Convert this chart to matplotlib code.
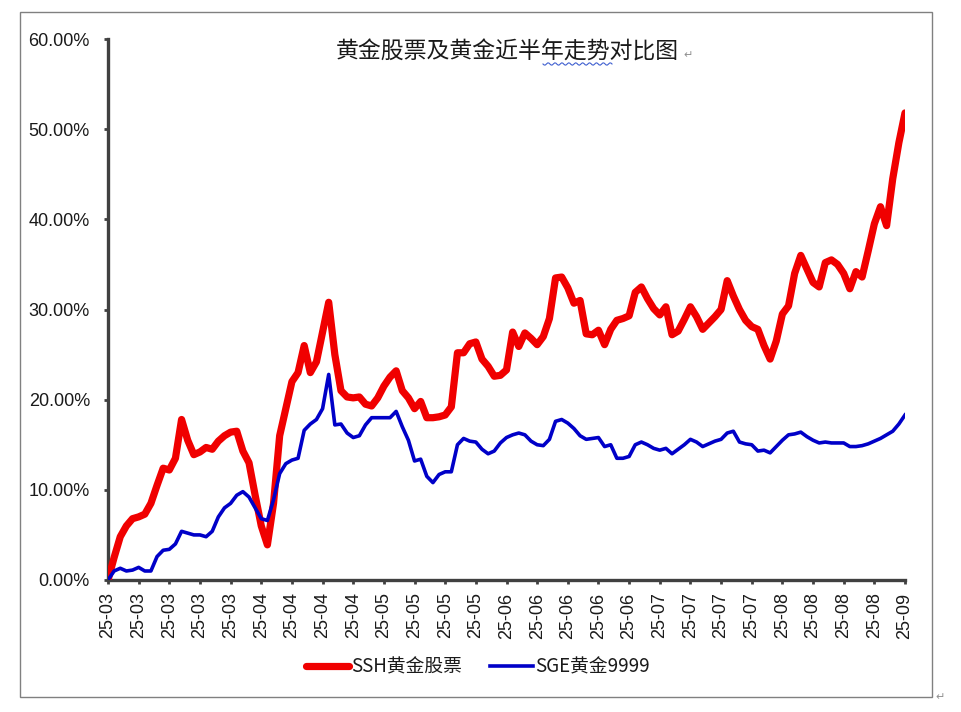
#!/usr/bin/env python3
"""
黄金股票及黄金近半年走势对比图
"""

import matplotlib
matplotlib.use('Agg')
import matplotlib.pyplot as plt
from matplotlib.patches import Rectangle
import numpy as np


# 横轴刻度标签（每 5 个交易日一个）
tick_labels = (['25-03'] * 5 + ['25-04'] * 4 + ['25-05'] * 4 + ['25-06'] * 5
               + ['25-07'] * 4 + ['25-08'] * 4 + ['25-09'])
tick_step = 5

# SSH黄金股票 累计涨幅（%）
ssh_gold_stock = [
  0.0, 2.5, 4.8, 6.0, 6.8, 7.0, 7.3, 8.5, 10.5, 12.4,
  12.2, 13.5, 17.8, 15.5, 13.9, 14.2, 14.7, 14.5, 15.4, 16.0,
  16.4, 16.5, 14.3, 13.0, 9.4, 6.0, 3.9, 8.5, 16.0, 19.0,
  22.0, 23.0, 26.0, 23.0, 24.2, 27.5, 30.8, 25.0, 21.0, 20.3,
  20.2, 20.3, 19.5, 19.3, 20.2, 21.5, 22.5, 23.2, 21.0, 20.2,
  19.0, 19.8, 18.0, 18.0, 18.1, 18.3, 19.2, 25.2, 25.2, 26.2,
  26.4, 24.5, 23.7, 22.6, 22.7, 23.3, 27.5, 25.9, 27.4, 26.8,
  26.1, 27.0, 29.0, 33.5, 33.6, 32.4, 30.7, 31.0, 27.3, 27.2,
  27.7, 26.1, 27.8, 28.8, 29.0, 29.3, 31.9, 32.5, 31.2, 30.1,
  29.4, 30.3, 27.2, 27.6, 28.9, 30.3, 29.2, 27.8, 28.5, 29.2,
  30.0, 33.2, 31.5, 30.0, 28.8, 28.1, 27.8, 26.0, 24.5, 26.5,
  29.5, 30.4, 34.0, 36.0, 34.5, 33.0, 32.5, 35.2, 35.5, 35.0,
  34.0, 32.3, 34.2, 33.6, 36.5, 39.5, 41.4, 39.3, 44.5, 48.5,
  51.8,
]

# SGE黄金9999 累计涨幅（%）
sge_gold_9999 = [
  0.0, 1.0, 1.3, 1.0, 1.1, 1.4, 1.0, 1.0, 2.6, 3.3,
  3.4, 4.0, 5.4, 5.2, 5.0, 5.0, 4.8, 5.4, 7.0, 8.0,
  8.5, 9.4, 9.8, 9.2, 8.0, 6.8, 6.6, 8.9, 11.8, 12.9,
  13.3, 13.5, 16.6, 17.3, 17.8, 19.0, 22.8, 17.2, 17.3, 16.3,
  15.8, 16.0, 17.2, 18.0, 18.0, 18.0, 18.0, 18.7, 17.0, 15.5,
  13.2, 13.4, 11.5, 10.8, 11.7, 12.0, 12.0, 15.0, 15.7, 15.4,
  15.3, 14.5, 14.0, 14.3, 15.2, 15.8, 16.1, 16.3, 16.1, 15.4,
  15.0, 14.9, 15.6, 17.6, 17.8, 17.4, 16.8, 16.0, 15.6, 15.7,
  15.8, 14.8, 15.0, 13.5, 13.5, 13.7, 15.0, 15.3, 15.0, 14.6,
  14.4, 14.6, 14.0, 14.5, 15.0, 15.6, 15.3, 14.8, 15.1, 15.4,
  15.6, 16.3, 16.5, 15.3, 15.1, 15.0, 14.3, 14.4, 14.1, 14.8,
  15.5, 16.1, 16.2, 16.4, 15.9, 15.5, 15.2, 15.3, 15.2, 15.2,
  15.2, 14.8, 14.8, 14.9, 15.1, 15.4, 15.7, 16.1, 16.5, 17.3,
  18.3,
]

y_ticks = [0, 10, 20, 30, 40, 50, 60]


def main():
  plt.rcParams['font.family'] = ['Liberation Sans', 'Noto Sans CJK SC', 'DejaVu Sans']
  W, H = 961, 712
  fig = plt.figure(figsize=(W / 100, H / 100), dpi=100)
  ax = fig.add_axes([108 / W, 1 - 580 / H, 797 / W, 541 / H])

  x = np.arange(len(ssh_gold_stock))
  ax.plot(x, ssh_gold_stock, color='#F00000', linewidth=5.2,
          solid_joinstyle='round', solid_capstyle='round', label='SSH黄金股票', zorder=3)
  ax.plot(x, sge_gold_9999, color='#0000C8', linewidth=2.6,
          solid_joinstyle='round', label='SGE黄金9999', zorder=4)

  ax.set_xlim(0, len(x) - 1)
  ax.set_ylim(0, 60)

  # 坐标轴样式
  for side in ['top', 'right']:
    ax.spines[side].set_visible(False)
  for side in ['left', 'bottom']:
    ax.spines[side].set_color('#404040')
    ax.spines[side].set_linewidth(2.4)
  ax.tick_params(axis='both', colors='#404040', width=2, length=3, direction='out',
                 labelcolor='#1a1a1a', labelsize=13)
  ax.tick_params(axis='y', pad=10)
  ax.tick_params(axis='x', pad=6)

  ax.set_yticks(y_ticks)
  ax.set_yticklabels([f'{v:.2f}%' for v in y_ticks])
  tick_pos = np.arange(0, len(x), tick_step)
  ax.set_xticks(tick_pos)
  ax.set_xticklabels(tick_labels, rotation=90)

  # 标题（位于绘图区内）
  fig.text(507 / W, 1 - 52 / H, '黄金股票及黄金近半年走势对比图', ha='center', va='center',
           fontsize=16.5, family=['Noto Sans CJK SC'], color='#1a1a1a')
  fig.text(688 / W, 1 - 55 / H, '↵', ha='center', va='center', fontsize=8,
           family=['DejaVu Sans'], color='#909090')
  # 拼写检查波浪线
  wx = np.linspace(543, 612, 60)
  wy = 64 + 1.2 * np.sin((wx - 543) / 69 * 2 * np.pi * 10)
  fig.add_artist(plt.Line2D(wx / W, 1 - wy / H, color='#4060D0', linewidth=0.8))

  # 图例
  leg = fig.legend(loc='center', bbox_to_anchor=(478 / W, 1 - 667 / H), ncol=2, frameon=False,
                   prop={'family': ['Noto Sans CJK SC'], 'size': 13.5},
                   handlelength=2.3, handletextpad=0.1, columnspacing=1.5)
  for t in leg.get_texts():
    t.set_color('#1a1a1a')

  # 外框
  fig.add_artist(Rectangle((20 / W, 1 - 697 / H), 912 / W, 685 / H, transform=fig.transFigure,
                           fill=False, edgecolor='#808080', linewidth=1))
  fig.text(940 / W, 1 - 697 / H, '↵', ha='center', va='center', fontsize=8,
           family=['DejaVu Sans'], color='#909090')

  fig.savefig('out.png', dpi=100)


if __name__ == '__main__':
  main()
